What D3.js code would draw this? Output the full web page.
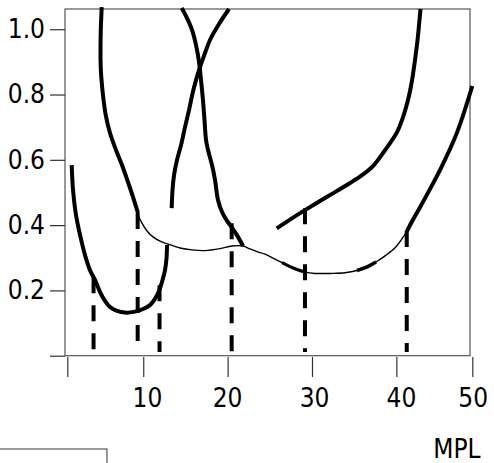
<!DOCTYPE html>
<html>
<head>
<meta charset="utf-8">
<script src="https://cdn.jsdelivr.net/npm/d3@7"></script>
<style>
body { margin: 0; background: #fff; }
svg text { font-family: "DejaVu Sans Condensed", "DejaVu Sans", sans-serif; font-stretch: condensed; font-size: 26px; fill: #000; }
</style>
</head>
<body>
<svg id="chart" width="494" height="463"></svg>
<script>
// tick values and labels
var yTicks = [0, 0.2, 0.4, 0.6, 0.8, 1.0];
var xTicks = [1, 10, 20, 30, 40, 49];
var xLabels = ["10", "20", "30", "40", "50"];
var xLabelAt = [10.5, 20, 30.3, 40.6, 49.1];

// left U curve
var curveA = [[1.52,0.584],[1.68,0.508],[2.03,0.431],[2.51,0.370],[3.10,0.308],[3.69,0.262],[4.28,0.232],
    [4.88,0.195],[5.47,0.168],[6.06,0.149],[6.89,0.137],[7.84,0.132],[9.03,0.135],[9.97,0.143],[10.80,0.155],
    [11.39,0.174],[11.87,0.198],[12.22,0.226],[12.58,0.262],[12.76,0.299],[12.82,0.339]];

// falling curve from top left
var curveB = [[5.08,1.068],[4.96,0.988],[4.96,0.885],[5.20,0.805],[5.59,0.732],[6.06,0.682],[6.77,0.630],
    [7.48,0.584],[8.19,0.532],[8.79,0.486],[9.38,0.437]];

// rising curve in the middle
var curveC = [[13.37,0.452],[13.47,0.508],[13.65,0.553],[14.00,0.599],[14.48,0.645],[14.95,0.700],[15.43,0.753],
    [15.86,0.805],[16.25,0.844],[16.73,0.884],[17.32,0.927],[17.91,0.967],[18.98,1.016],[20.16,1.062]];

// falling curve in the middle
var curveD = [[14.56,1.065],[15.19,1.034],[15.78,0.998],[16.25,0.952],[16.61,0.900],[16.85,0.844],[17.08,0.783],
    [17.26,0.722],[17.44,0.661],[17.68,0.630],[18.15,0.584],[18.51,0.538],[18.86,0.477],[19.34,0.440],
    [19.93,0.413],[20.64,0.388],[21.23,0.364],[21.83,0.336]];

// rising curve on the right
var curveE = [[25.82,0.390],[27.39,0.417],[29.17,0.446],[30.95,0.474],[32.73,0.501],[34.51,0.529],[35.93,0.553],
    [37.23,0.581],[38.42,0.621],[39.25,0.651],[40.08,0.685],[40.79,0.731],[41.38,0.783],[41.86,0.844],
    [42.21,0.906],[42.51,0.967],[42.74,1.028],[42.86,1.062]];

// thin envelope along the bottoms
var envelope = [[9.38,0.431],[9.85,0.406],[10.45,0.382],[11.16,0.364],[11.99,0.351],[12.94,0.342],[14.36,0.330],
    [15.78,0.324],[17.32,0.322],[19.10,0.328],[20.52,0.336],[21.83,0.336],[22.65,0.327],[23.48,0.319],
    [24.43,0.311],[25.38,0.299],[26.45,0.285],[27.39,0.273],[28.22,0.264],[29.17,0.256],[30.36,0.252],
    [32.14,0.252],[33.92,0.254],[35.34,0.261],[36.53,0.272],[37.59,0.287],[38.78,0.308],[39.96,0.334],[41.23,0.380]];

// thick right end of the envelope
var curveF = [[41.23,0.380],[41.98,0.417],[42.81,0.455],[44.0,0.511],[45.18,0.569],[47.15,0.681],[49.0,0.826]];

// dashed drop lines: x, top value
var dropX = [4.11, 9.34, 11.93, 20.48, 29.17, 41.23];
var dropTop = [0.24, 0.437, 0.216, 0.406, 0.452, 0.382];

var svg = d3.select("#chart");

var x = d3.scaleLinear().domain([1, 49]).range([67.3, 472.3]);
var y = d3.scaleLinear().domain([0, 1.062]).range([355.7, 9]);

// plot frame
svg.append("rect")
    .attr("x", 65).attr("y", 9)
    .attr("width", 405).attr("height", 346.7)
    .attr("fill", "none")
    .attr("stroke", "#555")
    .attr("stroke-width", 1.2);

// y axis
var yAxis = svg.append("g")
    .attr("transform", "translate(65,0)")
    .call(d3.axisLeft(y).tickValues(yTicks).tickSize(15).tickPadding(5)
        .tickFormat(function(d) { return d === 0 ? "" : d3.format(".1f")(d); }));
yAxis.select(".domain").remove();
yAxis.selectAll(".tick line").attr("stroke", "#333").attr("stroke-width", 1.2);
yAxis.selectAll("text").attr("font-size", 26).attr("font-family", null);

// x axis ticks
var xAxis = svg.append("g")
    .attr("transform", "translate(0,357)")
    .call(d3.axisBottom(x).tickValues(xTicks).tickSize(20).tickFormat(""));
xAxis.select(".domain").remove();
xAxis.selectAll(".tick line").attr("stroke", "#333").attr("stroke-width", 1.2);

svg.selectAll(".xlab")
    .data(xLabels)
    .enter().append("text")
    .attr("class", "xlab")
    .attr("x", function(d, i) { return x(xLabelAt[i]); })
    .attr("y", 407)
    .attr("text-anchor", "middle")
    .text(function(d) { return d; });

var line = d3.line()
    .x(function(d) { return x(d[0]); })
    .y(function(d) { return y(d[1]); })
    .curve(d3.curveCatmullRom);

// dashed drop lines
for (var i = 0; i < dropX.length; i++) {
    svg.append("line")
        .attr("x1", x(dropX[i])).attr("x2", x(dropX[i]))
        .attr("y1", y(dropTop[i])).attr("y2", y(0.011))
        .attr("stroke", "#000")
        .attr("stroke-width", 4)
        .attr("stroke-dasharray", "16,12");
}

svg.append("path")
    .attr("d", line(envelope))
    .attr("fill", "none")
    .attr("stroke", "#000")
    .attr("stroke-width", 1.4);

// places where the envelope is drawn heavier
svg.append("path")
    .attr("d", line(envelope.slice(16, 20)))
    .attr("fill", "none")
    .attr("stroke", "#000")
    .attr("stroke-width", 3);
svg.append("path")
    .attr("d", line(envelope.slice(23, 26)))
    .attr("fill", "none")
    .attr("stroke", "#000")
    .attr("stroke-width", 3.5);

var thick = [curveA, curveB, curveC, curveD, curveE, curveF];
thick.forEach(function(c) {
    svg.append("path")
        .attr("d", line(c))
        .attr("fill", "none")
        .attr("stroke", "#000")
        .attr("stroke-width", 4)
        .attr("stroke-linecap", "butt");
});

// legend box, cut off at the bottom
svg.append("rect")
    .attr("x", -2).attr("y", 449)
    .attr("width", 109).attr("height", 30)
    .attr("fill", "none")
    .attr("stroke", "#555")
    .attr("stroke-width", 1.2);

svg.append("text")
    .attr("x", 457).attr("y", 458)
    .attr("text-anchor", "middle")
    .text("MPL");
</script>
</body>
</html>
